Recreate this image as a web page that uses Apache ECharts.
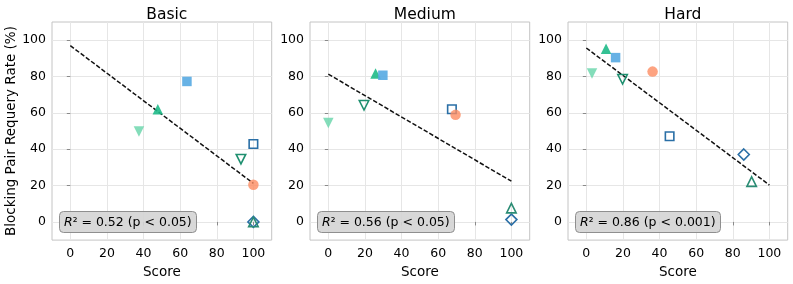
<!DOCTYPE html>
<html><head><meta charset="utf-8">
<script src="https://cdn.jsdelivr.net/npm/echarts@6/dist/echarts.min.js"></script>
<style>html,body{margin:0;padding:0;background:#fff}#c{width:793px;height:284px}</style>
</head><body><div id="c"></div><script>
// ---------- data ----------
const panels = ['Basic', 'Medium', 'Hard'];
const tickValues = [0, 20, 40, 60, 80, 100];
const r2Values = ['0.52 (p < 0.05)', '0.56 (p < 0.05)', '0.86 (p < 0.001)'];

// each array: [Basic, Medium, Hard]
const scoreFilledUp   = [47.8, 25.8, 10.8];
const rateFilledUp    = [62.0, 81.6, 95.3];
const scoreFilledSq   = [63.7, 29.8, 16.0];
const rateFilledSq    = [77.3, 80.7, 90.4];
const scoreOpenSq     = [100, 67.5, 45.5];
const rateOpenSq      = [42.9, 62.0, 47.1];
const scoreCircle     = [100, 69.5, 36.2];
const rateCircle      = [20.5, 58.9, 82.7];
const scoreFilledDown = [37.5, 0.0, 3.1];
const rateFilledDown  = [49.8, 54.4, 81.6];
const scoreOpenDown   = [93.2, 19.5, 19.8];
const rateOpenDown    = [34.5, 64.2, 78.5];
const scoreDiamond    = [100, 100, 86.0];
const rateDiamond     = [0.0, 1.3, 37.1];
const scoreOpenUp     = [100, 100, 90.3];
const rateOpenUp      = [0.0, 7.6, 22.2];

// regression line: rate at score 0 and at score 100
const fitScores = [0, 100];
const fitRateAt0   = [97.0, 81.3, 95.7];
const fitRateAt100 = [21.2, 22.4, 20.3];

// ---------- styles ----------
const markers = [
  {sx: scoreFilledUp,   ry: rateFilledUp,   symbol: 'triangle', size: 10.5, rot: 0,   fill: 'rgba(30,186,136,0.9)', stroke: 'rgba(30,186,136,0.9)', open: false},
  {sx: scoreFilledSq,   ry: rateFilledSq,   symbol: 'rect',     size: 9.5, rot: 0,   fill: 'rgba(86,170,226,0.9)', stroke: 'rgba(86,170,226,0.9)', open: false},
  {sx: scoreOpenSq,     ry: rateOpenSq,     symbol: 'rect',     size: 8.5, rot: 0,   fill: 'rgba(0,0,0,0)', stroke: '#2a6fa6', open: true},
  {sx: scoreCircle,     ry: rateCircle,     symbol: 'circle',   size: 10.5, rot: 0,   fill: 'rgba(252,140,98,0.8)', stroke: 'rgba(252,140,98,0.8)', open: false},
  {sx: scoreFilledDown, ry: rateFilledDown, symbol: 'triangle', size: 10.5, rot: 180, fill: 'rgba(110,215,174,0.85)', stroke: 'rgba(110,215,174,0.85)', open: false},
  {sx: scoreOpenDown,   ry: rateOpenDown,   symbol: 'triangle', size: 9.5, rot: 180, fill: 'rgba(0,0,0,0)', stroke: '#1f9070', open: true},
  {sx: scoreDiamond,    ry: rateDiamond,    symbol: 'diamond',  size: 11, rot: 0,   fill: 'rgba(0,0,0,0)', stroke: '#2a6fa6', open: true},
  {sx: scoreOpenUp,     ry: rateOpenUp,     symbol: 'triangle', size: 9.5, rot: 0,   fill: 'rgba(0,0,0,0)', stroke: '#2a8c74', open: true}
];

const gridLefts = [52, 310, 568];
const gridW = 219.7, gridTop = 22, gridH = 219;
const FONT = 'DejaVu Sans';
const TXT = '#000';

const grids = [], xAxes = [], yAxes = [], series = [], titles = [];
panels.forEach((name, p) => {
  grids.push({left: gridLefts[p], top: gridTop, width: gridW, height: gridH,
    show: true, borderColor: '#c4c4c4', borderWidth: 1, backgroundColor: 'transparent', containLabel: false});
  const axisCommon = {
    type: 'value', min: -10, max: 110, gridIndex: p,
    axisLine: {show: false},
    axisTick: {show: true, length: 3.5, inside: false, customValues: tickValues, lineStyle: {color: '#8a8a8a', width: 1}},
    axisLabel: {customValues: tickValues, color: TXT, fontFamily: FONT, fontSize: 12.5},
    splitLine: {show: true, lineStyle: {color: '#e6e6e6', width: 1}}
  };
  xAxes.push(Object.assign({}, axisCommon, {
    axisLabel: Object.assign({}, axisCommon.axisLabel, {margin: 7}),
    name: 'Score', nameLocation: 'middle', nameGap: 22,
    nameTextStyle: {color: TXT, fontFamily: FONT, fontSize: 13.5}
  }));
  const y = Object.assign({}, axisCommon, {
    axisLabel: Object.assign({}, axisCommon.axisLabel, {margin: 6})
  });
  if (p === 0) {
    y.name = 'Blocking Pair Requery Rate (%)';
    y.nameLocation = 'middle';
    y.nameGap = 33;
    y.nameTextStyle = {color: TXT, fontFamily: FONT, fontSize: 13.5};
  }
  yAxes.push(y);

  titles.push({text: name, left: gridLefts[p] + gridW / 2, textAlign: 'center', top: 2,
    textStyle: {fontFamily: FONT, fontSize: 15.5, fontWeight: 'normal', color: TXT}});
  titles.push({
    text: '{i|R}{s|²}{t| = ' + r2Values[p] + '}',
    left: gridLefts[p] + 7, top: 211,
    backgroundColor: 'rgba(212,212,212,0.9)', borderColor: '#8f8f8f', borderWidth: 1, borderRadius: 4,
    padding: [5, 5, 4, 5],
    textStyle: {fontWeight: 'normal', rich: {
      i: {fontFamily: FONT, fontSize: 12.5, fontStyle: 'italic', fontWeight: 'normal', color: TXT},
      s: {fontFamily: FONT, fontSize: 12, fontWeight: 'normal', color: TXT},
      t: {fontFamily: FONT, fontSize: 12.5, fontWeight: 'normal', color: TXT}
    }}
  });

  series.push({
    type: 'line', xAxisIndex: p, yAxisIndex: p, symbol: 'none', silent: true,
    data: [[fitScores[0], fitRateAt0[p]], [fitScores[1], fitRateAt100[p]]],
    lineStyle: {color: '#111', width: 1.5, type: [4.5, 2]}, z: 2
  });
  markers.forEach(m => {
    series.push({
      type: 'scatter', xAxisIndex: p, yAxisIndex: p,
      symbol: m.symbol, symbolSize: m.size, symbolRotate: m.rot,
      data: [[m.sx[p], m.ry[p]]],
      itemStyle: {color: m.fill, borderColor: m.stroke, borderWidth: m.open ? 1.6 : 0, opacity: 1},
      z: 3
    });
  });
});

const chart = echarts.init(document.getElementById('c'), null, {renderer: 'canvas'});
chart.setOption({animation: false, backgroundColor: '#fff', title: titles, grid: grids, xAxis: xAxes, yAxis: yAxes, series: series});
</script></body></html>
